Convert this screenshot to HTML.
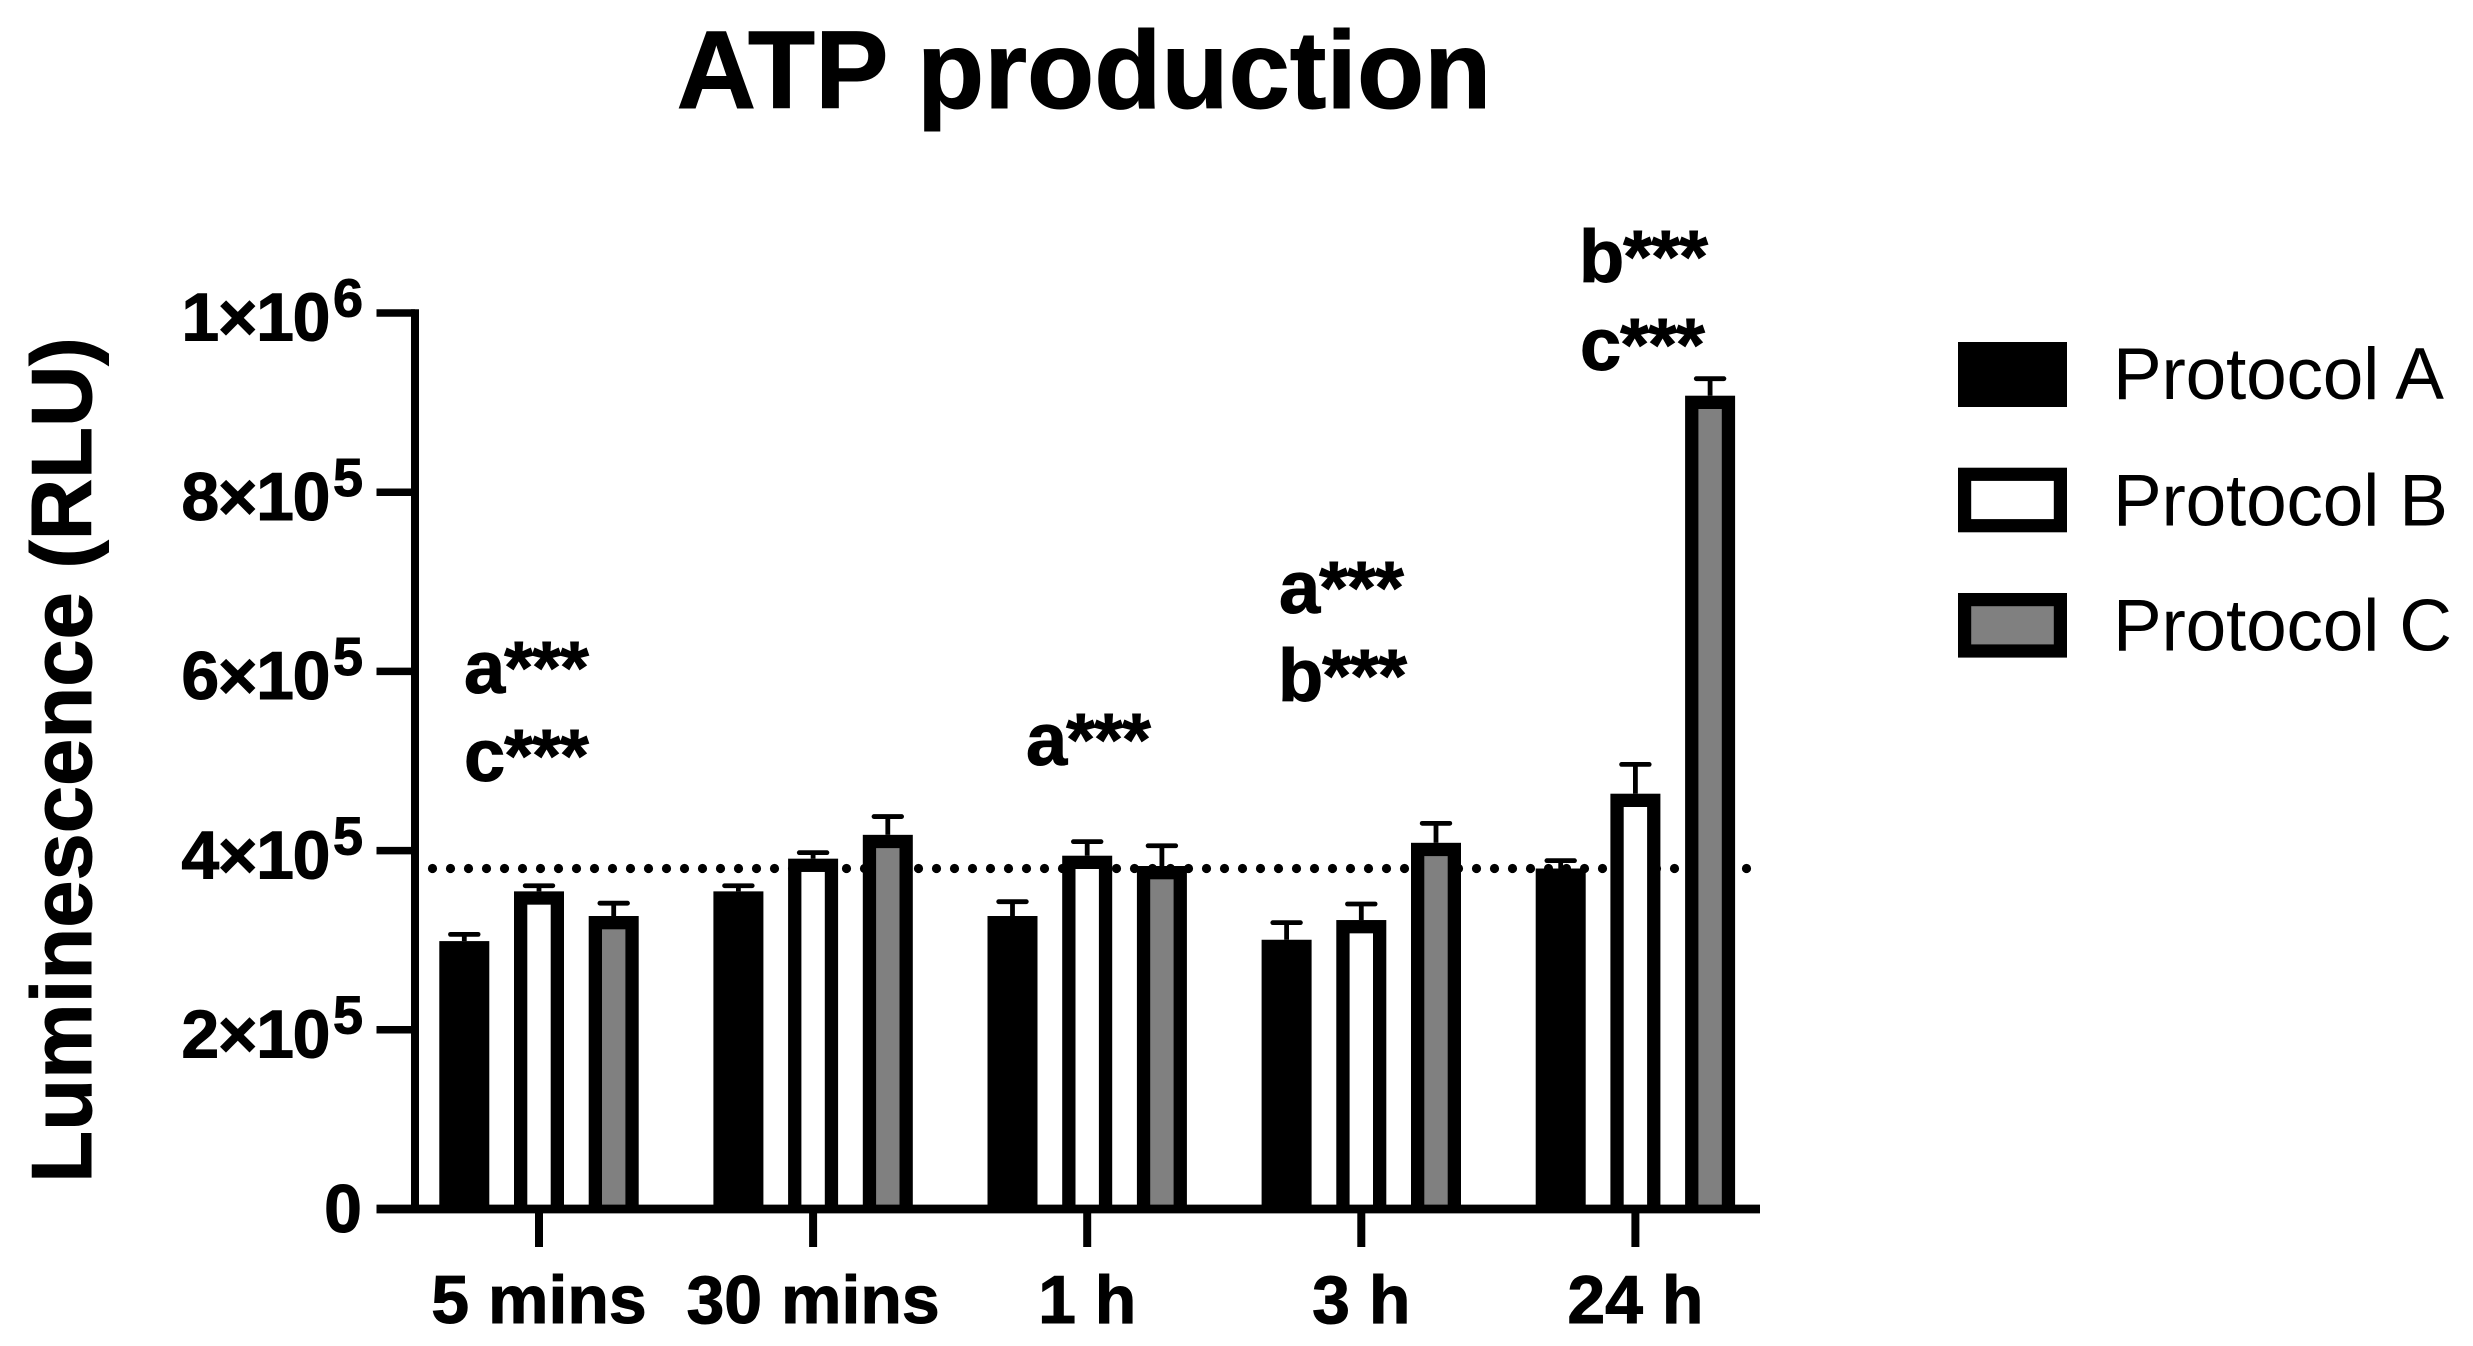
<!DOCTYPE html>
<html lang="en">
<head>
<meta charset="utf-8">
<title>ATP production</title>
<style>
html,body{margin:0;padding:0;background:#fff;width:2473px;height:1346px;overflow:hidden}
svg{display:block}
text{font-family:"Liberation Sans",Arial,sans-serif;fill:#000}
.b{font-weight:700;stroke:#000;stroke-width:1px}
</style>
</head>
<body>
<svg id="chart" xmlns="http://www.w3.org/2000/svg" width="2473" height="1346" viewBox="0 0 2473 1346">
  <rect x="0" y="0" width="2473" height="1346" fill="#fff"/>
  <text class="b" x="1084" y="108" font-size="110" text-anchor="middle">ATP production</text>
  <text class="b" font-size="85" text-anchor="middle" transform="translate(91 760) rotate(-90)">Luminescence (RLU)</text>

  <g id="ref-layer"></g>
  <g id="err-layer"></g>
  <g id="bar-layer"></g>
  <g id="axis-layer"></g>

  <g>
    <text class="b" x="464" y="693" font-size="74" letter-spacing="-0.9">a***</text>
    <text class="b" x="464" y="781" font-size="74" letter-spacing="-0.9">c***</text>
    <text class="b" x="1026" y="765" font-size="74" letter-spacing="-0.9">a***</text>
    <text class="b" x="1279" y="613" font-size="74" letter-spacing="-0.9">a***</text>
    <text class="b" x="1278" y="701" font-size="74" letter-spacing="-0.9">b***</text>
    <text class="b" x="1579" y="282" font-size="74" letter-spacing="-0.9">b***</text>
    <text class="b" x="1580" y="370" font-size="74" letter-spacing="-0.9">c***</text>
  </g>

  <g>
    <g>
      <rect x="1958" y="342" width="109" height="65" fill="#000"/>
      <text x="2113" y="399" font-size="73" letter-spacing="-0.2">Protocol A</text>
    </g>
    <g>
      <rect x="1964.6" y="474.3" width="95.8" height="51.4" fill="#fff" stroke="#000" stroke-width="13.2"/>
      <text x="2113" y="525.5" font-size="73" letter-spacing="-0.2">Protocol B</text>
    </g>
    <g>
      <rect x="1964.6" y="599.6" width="95.8" height="51.4" fill="#808080" stroke="#000" stroke-width="13.2"/>
      <text x="2113" y="650.5" font-size="73" letter-spacing="-0.2">Protocol C</text>
    </g>
  </g>
</svg>
<script>
const categories = ["5 mins", "30 mins", "1 h", "3 h", "24 h"];
const protocolA = [299000, 354500, 327000, 300500, 380000];
const protocolB = [354500, 391000, 394300, 322500, 463500];
const protocolC = [327000, 417600, 382800, 408700, 907700];
const errorA = [7500, 6300, 16000, 19100, 8800];
const errorB = [6300, 6700, 15700, 17900, 32700];
const errorC = [14300, 20400, 22600, 21700, 19000];
const referenceValue = 380000;
const tickValues = [0, 200000, 400000, 600000, 800000, 1000000];
const tickMantissas = ["0", "2×10", "4×10", "6×10", "8×10", "1×10"];
const tickExponents = ["", "5", "5", "5", "5", "6"];

const NS = "http://www.w3.org/2000/svg";
const Y0 = 1209, PX_PER_UNIT = 896 / 1000000;
const X0 = 539, GROUP_STEP = 274.1, BAR_STEP = 74.7, BAR_W = 50, STROKE = 13.3;
const AXIS_LEFT = 415, AXIS_RIGHT = 1760;

function yScale(v) { return Y0 - v * PX_PER_UNIT; }
function xScale(g, s) { return X0 + g * GROUP_STEP + (s - 1) * BAR_STEP; }
function make(tag, attrs, parent) {
  const el = document.createElementNS(NS, tag);
  for (const k in attrs) el.setAttribute(k, attrs[k]);
  parent.appendChild(el);
  return el;
}

const refLayer = document.getElementById("ref-layer");
const errLayer = document.getElementById("err-layer");
const barLayer = document.getElementById("bar-layer");
const axisLayer = document.getElementById("axis-layer");

const refLine = make("line", {x1: 432.5, x2: 1750, y1: yScale(referenceValue), y2: yScale(referenceValue), stroke: "#000", "stroke-width": 9.2, "stroke-linecap": "round", "stroke-dasharray": "0 18"}, refLayer);



const seriesValues = [protocolA, protocolB, protocolC];
const seriesErrors = [errorA, errorB, errorC];
const seriesFills = ["#000", "#fff", "#808080"];
const seriesKeys = ["a", "b", "c"];

seriesValues.forEach(function (vals, s) {
  vals.forEach(function (v, g) {
    const cx = xScale(g, s);
    const top = yScale(v);
    const upper = yScale(v + seriesErrors[s][g]);

    const stem = make("line", {x1: cx, x2: cx, y1: top, y2: upper, stroke: "#000", "stroke-width": 4.8}, errLayer);
    
    

    const cap = make("line", {x1: cx - 13.8, x2: cx + 13.8, y1: upper, y2: upper, stroke: "#000", "stroke-width": 4.8, "stroke-linecap": "round"}, errLayer);
    
    

    const bar = make("rect", {x: cx - BAR_W / 2, y: top, width: BAR_W, height: Y0 - top, fill: "#000"}, barLayer);
    
    

    const inner = make("rect", {x: cx - BAR_W / 2 + STROKE, y: top + STROKE, width: BAR_W - 2 * STROKE, height: Y0 - top - STROKE, fill: seriesFills[s]}, barLayer);
    
    
  });
});

const yAxisLine = make("line", {x1: AXIS_LEFT, x2: AXIS_LEFT, y1: yScale(1000000) - 3.8, y2: Y0 + 4, stroke: "#000", "stroke-width": 8}, axisLayer);



const xAxisLine = make("line", {x1: AXIS_LEFT, x2: AXIS_RIGHT, y1: Y0, y2: Y0, stroke: "#000", "stroke-width": 8.7}, axisLayer);



tickValues.forEach(function (v, i) {
  const y = yScale(v);
  const t = make("line", {x1: 376.5, x2: AXIS_LEFT, y1: y, y2: y, stroke: "#000", "stroke-width": i === 0 ? 8.7 : 7.5}, axisLayer);
  
  

  const hasExp = tickExponents[i] !== "";
  const lab = make("text", {x: hasExp ? 329 : 362, y: y + (hasExp ? 27.7 : 23), "font-size": 68, "text-anchor": "end", class: "b", "letter-spacing": hasExp ? -1.4 : 0}, axisLayer);
  lab.textContent = tickMantissas[i];
  
  

  if (hasExp) {
    const ex = make("text", {x: 363, y: y + 3.7, "font-size": 54, "text-anchor": "end", class: "b"}, axisLayer);
    ex.textContent = tickExponents[i];
    
    
  }
});

categories.forEach(function (c, g) {
  const cx = xScale(g, 1);
  const t = make("line", {x1: cx, x2: cx, y1: Y0, y2: 1247, stroke: "#000", "stroke-width": 8}, axisLayer);
  
  

  const lab = make("text", {x: cx, y: 1323, "font-size": 68, "text-anchor": "middle", class: "b"}, axisLayer);
  lab.textContent = c;
  
  
});
</script>
</body>
</html>
